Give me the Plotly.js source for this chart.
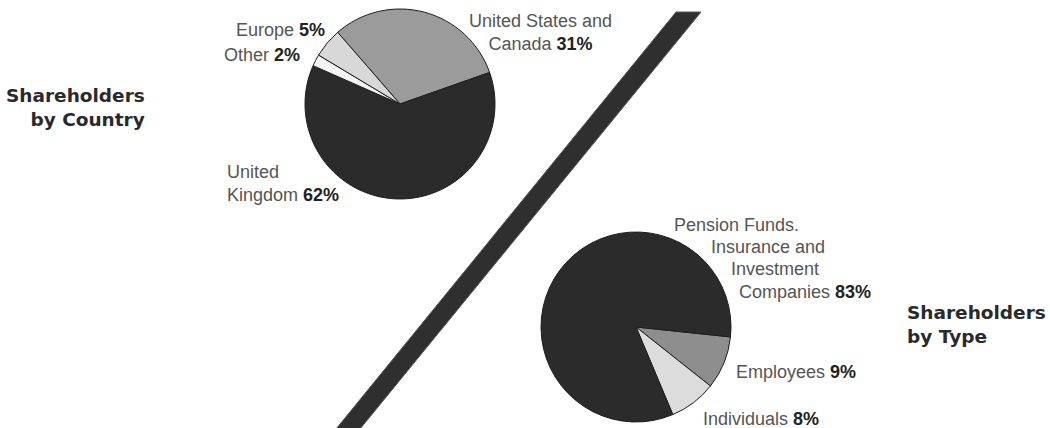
<!DOCTYPE html>
<html>
<head>
<meta charset="utf-8">
<script src="https://cdn.plot.ly/plotly-3.0.1.min.js"></script>
<style>html,body{margin:0;padding:0;background:#fff;}#chart{width:1050px;height:428px;}</style>
</head>
<body>
<div id="chart"></div>
<script>
// ---- Data ----
const countryLabels = ['United States and<br>Canada', 'United<br>Kingdom', 'Other', 'Europe'];
const countryValues = [31, 62, 2, 5];
const typeLabels = ['Employees', 'Individuals', 'Pension Funds.<br>Insurance and<br>Investment<br>Companies'];
const typeValues = [9, 8, 83];
const titleCountry = 'Shareholders<br>by Country';
const titleType = 'Shareholders<br>by Type';

// ---- Styling / layout helpers ----
const W = 1050, H = 428;
const px = x => x / W;
const py = y => 1 - y / H;
const countryColors = ['#9b9b9b', '#2b2b2b', '#f4f4f4', '#d8d8d8'];
const typeColors = ['#8e8e8e', '#dcdcdc', '#2b2b2b'];
const textColor = '#555555';
const boldColor = '#222222';
const labelFont = {family: 'Liberation Sans, Arial, sans-serif', size: 18, color: textColor};
const titleFont = {family: 'DejaVu Sans, sans-serif', size: 18.5, color: '#2a2a2a', weight: 'bold'};

function pct(v) { return ' <span style="color:' + boldColor + '"><b>' + v + '%</b></span>'; }
function withPct(label, v) { return label + pct(v); }

const traces = [
  {
    type: 'pie', labels: countryLabels, values: countryValues, sort: false,
    direction: 'clockwise', rotation: -41, textinfo: 'none', hoverinfo: 'label+percent',
    marker: {colors: countryColors, line: {color: '#1e1e1e', width: 1}},
    domain: {x: [px(305), px(495)], y: [py(199), py(9)]}, showlegend: false
  },
  {
    type: 'pie', labels: typeLabels, values: typeValues, sort: false,
    direction: 'clockwise', rotation: 96, textinfo: 'none', hoverinfo: 'label+percent',
    marker: {colors: typeColors, line: {color: '#1e1e1e', width: 1}},
    domain: {x: [px(541), px(731)], y: [py(422), py(232)]}, showlegend: false
  }
];

// Label placement (layout only)
const ann = [];
function add(text, x, y, xanchor, align, font) {
  ann.push({text: text, x: px(x), y: py(y), xref: 'paper', yref: 'paper', xanchor: xanchor,
    yanchor: 'middle', align: align || xanchor, showarrow: false, font: font || labelFont});
}
// country labels
add(withPct(countryLabels[3], countryValues[3]), 234, 30, 'left');
add(withPct(countryLabels[2], countryValues[2]), 222, 55, 'left');
add(withPct(countryLabels[0], countryValues[0]), 540, 32, 'center');
add(withPct(countryLabels[1], countryValues[1]), 225, 183, 'left');
// type labels
const pensionLines = typeLabels[2].split('<br>');
const pensionX = [672, 709, 729, 737];
const pensionY = [225, 247, 269, 292];
pensionLines.forEach((ln, i) => {
  add(i === pensionLines.length - 1 ? withPct(ln, typeValues[2]) : ln, pensionX[i], pensionY[i], 'left');
});
add(withPct(typeLabels[0], typeValues[0]), 734, 372, 'left');
add(withPct(typeLabels[1], typeValues[1]), 701, 419, 'left');
// titles
add(titleCountry, 147, 108, 'right', 'right', titleFont);
add(titleType, 905, 324, 'left', 'left', titleFont);

const layout = {
  width: W, height: H, margin: {l: 0, r: 0, t: 0, b: 0},
  paper_bgcolor: '#ffffff', plot_bgcolor: '#ffffff',
  showlegend: false,
  annotations: ann,
  shapes: [{
    type: 'path', xref: 'paper', yref: 'paper', layer: 'below',
    path: 'M ' + px(676) + ' ' + py(12) + ' L ' + px(701) + ' ' + py(12) +
          ' L ' + px(360) + ' ' + py(429) + ' L ' + px(336) + ' ' + py(429) + ' Z',
    fillcolor: '#2f2f2f', line: {color: '#5a5a5a', width: 1}
  }]
};

Plotly.newPlot('chart', traces, layout, {displayModeBar: false, staticPlot: true});
</script>
</body>
</html>
